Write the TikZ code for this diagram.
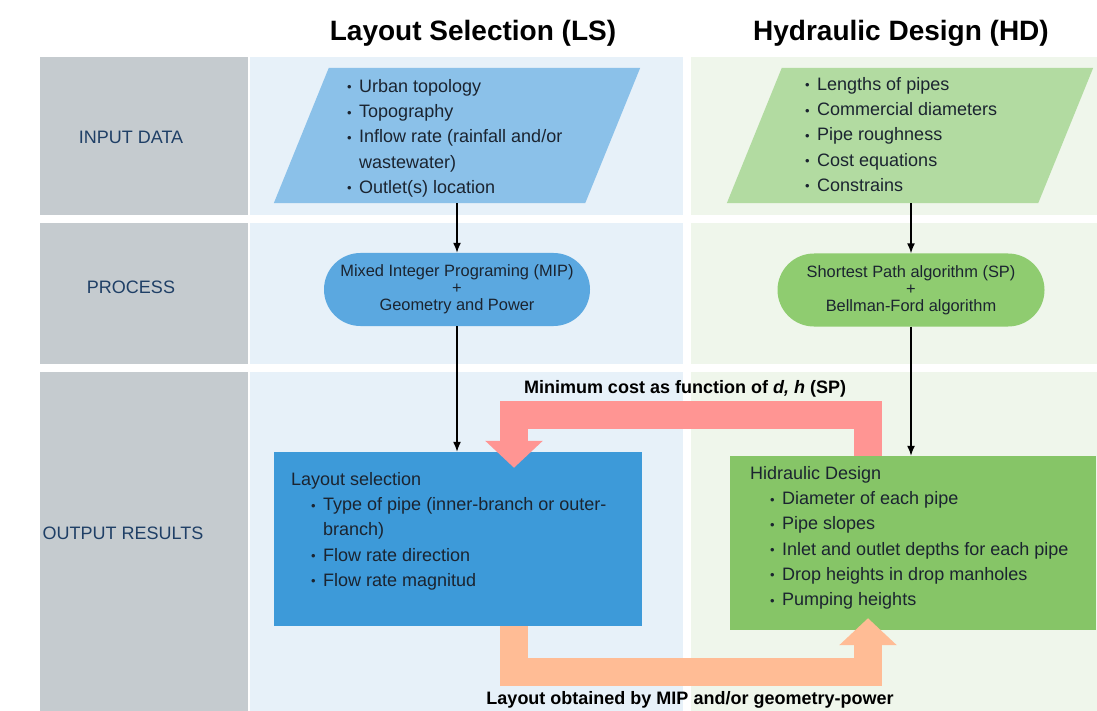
\documentclass[tikz,border=0pt]{standalone}
\usepackage{fontspec}
\setmainfont{Liberation Sans}
\usetikzlibrary{arrows.meta}
\definecolor{graybg}{HTML}{C5CBCF}
\definecolor{lsbg}{HTML}{E7F1F9}
\definecolor{hdbg}{HTML}{EFF6EB}
\definecolor{lsinc}{HTML}{8BC1E9}
\definecolor{hdinc}{HTML}{B2DBA1}
\definecolor{lsprocc}{HTML}{5BA8E0}
\definecolor{hdprocc}{HTML}{8FCC70}
\definecolor{lsc}{HTML}{3D9AD9}
\definecolor{hdc}{HTML}{86C567}
\definecolor{redc}{HTML}{FF9593}
\definecolor{orc}{HTML}{FFBC95}
\definecolor{navy}{HTML}{1F3F66}
\definecolor{ink}{HTML}{1B2430}
\newcommand{\bul}{\makebox[12pt][l]{\fontsize{13}{13}\selectfont\raisebox{0.5pt}{•}}}
\begin{document}
\begin{tikzpicture}[x=1pt,y=-1pt,
  rowlbl/.style={font=\fontsize{18}{22}\selectfont, text=navy, inner sep=0},
  ttl/.style={font=\fontsize{28}{32}\selectfont\bfseries, text=black, inner sep=0},
  lst/.style={font=\fontsize{18}{25.3}\selectfont, text=ink, align=left, inner sep=0, anchor=north west},
  stadium/.style={minimum height=73pt, rounded corners=36.5pt, inner sep=0, align=center, text=ink,
     font=\fontsize{16.4}{16.8}\selectfont},
  flow/.style={line width=1.5pt, -{Latex[length=10pt,width=8pt]}},
  big/.style={line width=28pt, line join=miter, line cap=butt, -{Triangle[length=27pt,width=56pt]}},
  lbl/.style={font=\fontsize{18}{22}\selectfont\bfseries, text=black, inner sep=0}]
\useasboundingbox (0,0) rectangle (1097,711);
\fill[white] (0,0) rectangle (1097,711);
% panels
\fill[graybg] (40,57) rectangle (248,215);
\fill[graybg] (40,223) rectangle (248,364);
\fill[graybg] (40,372) rectangle (248,711);
\fill[lsbg] (250,57) rectangle (683,215);
\fill[lsbg] (250,223) rectangle (683,364);
\fill[lsbg] (250,372) rectangle (683,711);
\fill[hdbg] (691,57) rectangle (1097,215);
\fill[hdbg] (691,223) rectangle (1097,364);
\fill[hdbg] (691,372) rectangle (1097,711);
% titles
\node[ttl, anchor=base] (tls) at (473,41) {Layout Selection (LS)};
\node[ttl, anchor=base] (thd) at (901,41) {Hydraulic Design (HD)};
% row labels
\node[rowlbl] (rin) at (131,137) {INPUT DATA};
\node[rowlbl] (rpr) at (131,287) {PROCESS};
\node[rowlbl] (rout) at (123,533) {OUTPUT RESULTS};
% input parallelograms
\node[minimum width=366pt, minimum height=135pt, inner sep=0] (lsin) at (457,135.5) {};
\fill[lsinc] ([xshift=55pt]lsin.north west) -- (lsin.north east) -- ([xshift=-55pt]lsin.south east) -- (lsin.south west) -- cycle;
\node[minimum width=366pt, minimum height=135pt, inner sep=0] (hdin) at (910,135.5) {};
\fill[hdinc] ([xshift=55pt]hdin.north west) -- (hdin.north east) -- ([xshift=-55pt]hdin.south east) -- (hdin.south west) -- cycle;
\node[lst] (lsintxt) at (347,79) {\bul Urban topology\\ \bul Topography\\ \bul Inflow rate (rainfall and/or\\ \hspace*{12pt}wastewater)\\ \bul Outlet(s) location};
\node[lst] (hdintxt) at (805,77) {\bul Lengths of pipes\\ \bul Commercial diameters\\ \bul Pipe roughness\\ \bul Cost equations\\ \bul Constrains};
% process
\node[stadium, fill=lsprocc, minimum width=266pt] (lsproc) at (457,289.5) {Mixed Integer Programing (MIP)\\+\\Geometry and Power};
\node[stadium, fill=hdprocc, minimum width=267pt] (hdproc) at (911,290) {Shortest Path algorithm (SP)\\+\\Bellman-Ford algorithm};
% output boxes
\node[fill=lsc, minimum width=368pt, minimum height=174pt, inner sep=0] (ls) at (458,539) {};
\node[fill=hdc, minimum width=366pt, minimum height=174pt, inner sep=0] (hd) at (913,543) {};
% flow arrows
\draw[flow] (lsproc.north |- lsin.south) -- (lsproc.north);
\draw[flow] (hdproc.north |- hdin.south) -- (hdproc.north);
\draw[flow] (lsproc.south) -- (lsproc.south |- ls.north);
\draw[flow] (hdproc.south) -- (hdproc.south |- hd.north);
% big feedback arrows
\coordinate (redtop) at (690,415);
\coordinate (orbot) at (690,672);
\draw[big, redc] ([xshift=-45pt]hd.north) -- ([xshift=-45pt]hd.north |- redtop) -| ([xshift=56pt,yshift=-16pt]ls.north);
\draw[big, orc] ([xshift=56pt]ls.south) -- ([xshift=56pt]ls.south |- orbot) -| ([xshift=-45pt,yshift=12pt]hd.south);
\node[lbl] (redlbl) at (685,389) {Minimum cost as function of \textit{d, h} (SP)};
\node[lbl] (orlbl) at (690,700) {Layout obtained by MIP and/or geometry-power};
% box texts
\node[lst] (lstxt) at (291,472) {Layout selection\\ \hspace*{20pt}\bul Type of pipe (inner-branch or outer-\\ \hspace*{32pt}branch)\\ \hspace*{20pt}\bul Flow rate direction\\ \hspace*{20pt}\bul Flow rate magnitud};
\node[lst] (hdtxt) at (750,466) {Hidraulic Design\\ \hspace*{20pt}\bul Diameter of each pipe\\ \hspace*{20pt}\bul Pipe slopes\\ \hspace*{20pt}\bul Inlet and outlet depths for each pipe\\ \hspace*{20pt}\bul Drop heights in drop manholes\\ \hspace*{20pt}\bul Pumping heights};
\end{tikzpicture}
\end{document}
